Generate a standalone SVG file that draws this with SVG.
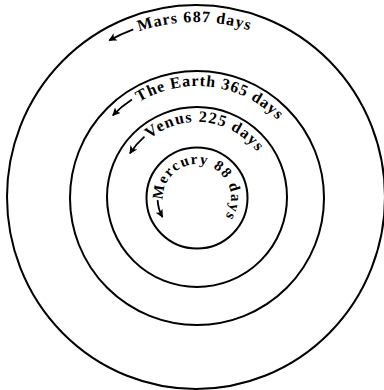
<svg xmlns="http://www.w3.org/2000/svg" width="384" height="390" viewBox="0 0 384 390">
<style>
.orbit{fill:none;stroke:#000;stroke-width:2}
.lbl{font-family:"Liberation Serif","DejaVu Serif",serif;font-weight:bold;fill:#000}
.arr{fill:none;stroke:#000;stroke-width:1.8;marker-end:url(#ah)}
</style>
<defs>
<marker id="ah" viewBox="0 0 10 10" refX="9" refY="5" markerWidth="4.5" markerHeight="4.5" orient="auto" markerUnits="strokeWidth">
<path d="M0,0 L10,5 L0,10 L2.5,5 z" fill="#000"/>
</marker>
<path id="pMars" d="M139.0,31.5 A175,175 0 0 1 283.5,45.5"/>
<path id="pEarth" d="M139.3,102.0 A112,112 0 0 1 294.0,142.0"/>
<path id="pVenus" d="M149.8,138.7 A75,75 0 0 1 267.5,171.3"/>
<path id="pMerc" d="M163.05,199.8 A34,34 0 1 1 214,227.4"/>
</defs>
<rect width="384" height="390" fill="#fff"/>
<g id="mars">
<ellipse class="orbit" cx="196" cy="197" rx="189" ry="192"/>
<text class="lbl" font-size="16"><textPath href="#pMars" textLength="112" lengthAdjust="spacing">Mars 687 days</textPath></text>
</g>
<g id="earth">
<circle class="orbit" cx="197" cy="198" r="127"/>
<text class="lbl" font-size="16"><textPath href="#pEarth" textLength="150" lengthAdjust="spacing">The Earth 365 days</textPath></text>
</g>
<g id="venus">
<circle class="orbit" cx="197" cy="197" r="90"/>
<text class="lbl" font-size="16"><textPath href="#pVenus" textLength="120" lengthAdjust="spacing">Venus 225 days</textPath></text>
</g>
<g id="mercury">
<circle class="orbit" cx="197" cy="198" r="50.5"/>
<text class="lbl" font-size="15"><textPath href="#pMerc" textLength="128" lengthAdjust="spacing">Mercury 88 days</textPath></text>
</g>
<g id="connectors">
<path class="arr" d="M133.3,29.3 A179,179 0 0 0 109.2,40.4"/>
<path class="arr" d="M131.9,99.6 A118,118 0 0 0 112.8,115.3"/>
<path class="arr" d="M144.5,136.6 A80,80 0 0 0 129.9,153.4"/>
<path class="arr" d="M157.6,200.1 A39.5,39.5 0 0 0 162.5,217.1"/>
</g>
</svg>
